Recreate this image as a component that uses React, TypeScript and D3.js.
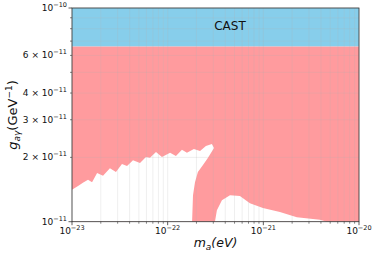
import React from 'react';
import * as d3 from 'd3';

// axis ranges
const massDomain = [1e-23, 1e-20];
const couplingDomain = [1e-11, 1e-10];

// tick labels
const xMajorTicks = [1e-23, 1e-22, 1e-21, 1e-20];
const xMajorExp = ['−23', '−22', '−21', '−20'];
const yMajorTicks = [1e-11, 1e-10];
const yMajorExp = ['−11', '−10'];
const yLabeledMinor = [2e-11, 3e-11, 4e-11, 6e-11];
const yLabeledMinorMant = ['2', '3', '4', '6'];

// CAST limit
const castLimit = 6.6e-11;

// allowed (white) region, left part: mass / coupling along its outline
const leftMass = [
  1e-23, 1e-23, 1.156e-23, 1.3e-23, 1.47e-23, 1.62e-23, 1.83e-23, 2.11e-23, 2.49e-23, 2.88e-23,
  3.33e-23, 3.76e-23, 4.34e-23, 5.14e-23, 5.93e-23, 6.53e-23, 7.55e-23, 8.71e-23, 1.06e-22,
  1.22e-22, 1.41e-22, 1.59e-22, 1.88e-22, 2.18e-22, 2.51e-22, 2.9e-22, 3.05e-22, 2.64e-22,
  2.34e-22, 2.07e-22, 1.93e-22, 1.84e-22, 1.8e-22,
];
const leftCoupling = [
  1e-11, 1.41e-11, 1.47e-11, 1.52e-11, 1.57e-11, 1.53e-11, 1.69e-11, 1.64e-11, 1.78e-11, 1.71e-11,
  1.86e-11, 1.82e-11, 1.94e-11, 1.88e-11, 2.01e-11, 1.99e-11, 2.12e-11, 2.01e-11, 2.1e-11,
  2.03e-11, 2.17e-11, 2.1e-11, 2.19e-11, 2.14e-11, 2.26e-11, 2.31e-11, 2.21e-11, 1.99e-11,
  1.84e-11, 1.71e-11, 1.53e-11, 1.33e-11, 1e-11,
];

// allowed (white) region, right part
const rightMass = [
  3.12e-22, 3.27e-22, 3.69e-22, 4.48e-22, 5.69e-22, 7.24e-22, 9.9e-22, 1.49e-21, 2.24e-21,
  3.9e-21, 4.62e-21,
];
const rightCoupling = [
  1e-11, 1.13e-11, 1.26e-11, 1.33e-11, 1.32e-11, 1.22e-11, 1.16e-11, 1.11e-11, 1.05e-11,
  1.02e-11, 1e-11,
];

const W = 377;
const H = 257;
const margin = { left: 72, right: 18, top: 8, bottom: 35.3 };
const font = 'DejaVu Sans, sans-serif';

const minorTicks = (lo: number, hi: number) => {
  const out: number[] = [];
  for (let e = Math.log10(lo); e < Math.log10(hi); e++) {
    for (let k = 2; k <= 9; k++) out.push(k * Math.pow(10, e));
  }
  return out;
};

export default function App() {
  const x = d3.scaleLog().domain(massDomain).range([margin.left, W - margin.right]);
  const y = d3.scaleLog().domain(couplingDomain).range([H - margin.bottom, margin.top]);
  const [x0, x1] = x.range();
  const [y0, y1] = y.range();

  const line = d3
    .line<[number, number]>()
    .x((d) => x(d[0]))
    .y((d) => y(d[1]));
  const leftPath = line(leftMass.map((m, i) => [m, leftCoupling[i]]))! + 'Z';
  const rightPath = line(rightMass.map((m, i) => [m, rightCoupling[i]]))! + 'Z';

  const xMinor = minorTicks(massDomain[0], massDomain[1]);
  const yMinor = minorTicks(couplingDomain[0], couplingDomain[1]);

  return (
    <svg
      width={W}
      height={H}
      style={{ position: 'absolute', left: 0, top: 0, background: '#fff' }}
      fontFamily={font}
    >
      {/* excluded regions */}
      <rect x={x0} y={y1} width={x1 - x0} height={y(castLimit) - y1} fill="#87CEEB" />
      <rect x={x0} y={y(castLimit)} width={x1 - x0} height={y0 - y(castLimit)} fill="#FF9B9E" />
      <path d={leftPath} fill="#fff" />
      <path d={rightPath} fill="#fff" />

      {/* grid */}
      <g stroke="#b0b0b0" strokeOpacity={0.35} strokeWidth={0.6}>
        {[...xMajorTicks, ...xMinor].map((t, i) => (
          <line key={'gx' + i} x1={x(t)} x2={x(t)} y1={y1} y2={y0} />
        ))}
        {[...yMajorTicks, ...yMinor].map((t, i) => (
          <line key={'gy' + i} x1={x0} x2={x1} y1={y(t)} y2={y(t)} />
        ))}
      </g>

      <text x={230} y={30} fontSize={12} textAnchor="middle" fill="#111">
        CAST
      </text>

      {/* frame */}
      <rect x={x0} y={y1} width={x1 - x0} height={y0 - y1} fill="none" stroke="#333" strokeWidth={0.8} />

      {/* ticks */}
      <g stroke="#333" strokeWidth={0.8}>
        {xMajorTicks.map((t, i) => (
          <line key={'xt' + i} x1={x(t)} x2={x(t)} y1={y0} y2={y0 + 3.5} />
        ))}
        {xMinor.map((t, i) => (
          <line key={'xm' + i} x1={x(t)} x2={x(t)} y1={y0} y2={y0 + 2} strokeWidth={0.6} />
        ))}
        {yMajorTicks.map((t, i) => (
          <line key={'yt' + i} x1={x0 - 3.5} x2={x0} y1={y(t)} y2={y(t)} />
        ))}
        {yMinor.map((t, i) => (
          <line key={'ym' + i} x1={x0 - 2} x2={x0} y1={y(t)} y2={y(t)} strokeWidth={0.6} />
        ))}
      </g>

      {xMajorTicks.map((t, i) => (
        <text key={'xl' + i} x={x(t)} y={y0 + 12} fontSize={9} textAnchor="middle" fill="#111">
          10
          <tspan fontSize={6.5} dy={-4}>
            {xMajorExp[i]}
          </tspan>
        </text>
      ))}
      {yMajorTicks.map((t, i) => (
        <text key={'yl' + i} x={x0 - 5} y={y(t) + 3} fontSize={9} textAnchor="end" fill="#111">
          10
          <tspan fontSize={6.5} dy={-4}>
            {yMajorExp[i]}
          </tspan>
        </text>
      ))}
      {yLabeledMinor.map((t, i) => (
        <text key={'ylm' + i} x={x0 - 5} y={y(t) + 3} fontSize={9} textAnchor="end" fill="#111">
          {yLabeledMinorMant[i]}
          {' × 10'}
          <tspan fontSize={6.5} dy={-4}>
            −11
          </tspan>
        </text>
      ))}

      {/* axis labels */}
      <text x={(x0 + x1) / 2} y={247} fontSize={12.5} textAnchor="middle" fill="#111" fontStyle="italic">
        m
        <tspan fontSize={9} dy={2.5}>a</tspan>
        <tspan dy={-2.5}>(eV)</tspan>
      </text>
      <text
        transform={`translate(17, 115) rotate(-90)`}
        fontSize={13}
        textAnchor="middle"
        fill="#111"
      >
        <tspan fontStyle="italic">g</tspan>
        <tspan fontSize={9} dy={2.5} fontStyle="italic">aγ</tspan>
        <tspan dy={-2.5}>(GeV</tspan>
        <tspan fontSize={9} dy={-5}>−1</tspan>
        <tspan dy={5}>)</tspan>
      </text>
    </svg>
  );
}
